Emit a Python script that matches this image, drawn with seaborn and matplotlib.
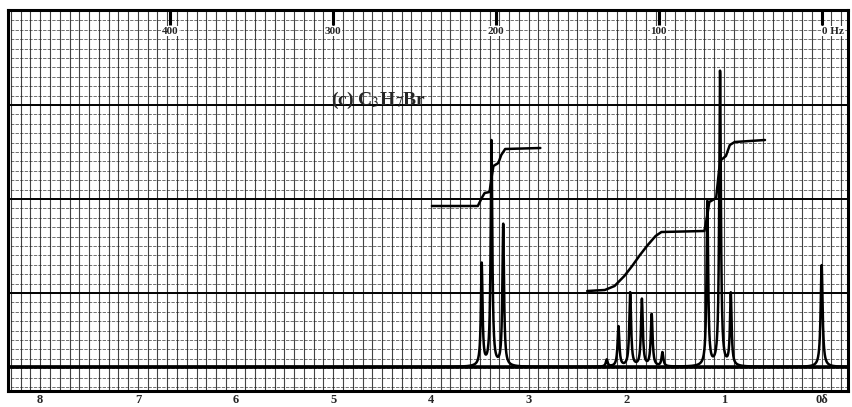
import numpy as np
import pandas as pd
import matplotlib
matplotlib.use("Agg")
import matplotlib.pyplot as plt
import seaborn as sns

sns.set_style("white")
plt.rcParams['font.family'] = ['Liberation Serif', 'DejaVu Serif']
plt.rcParams['mathtext.fontset'] = 'stix'

# Lines of the spectrum: shift (ppm), height above baseline, half width (ppm)
peak_ppm = [3.48, 3.38, 3.26, 2.20, 2.08, 1.96, 1.84, 1.74, 1.63, 1.17, 1.04, 0.93, 0.00]
peak_height = [102, 225, 142, 7, 40, 74, 67, 52, 14, 165, 295, 72, 102]
peak_hwhm = [0.010, 0.010, 0.010, 0.011, 0.011, 0.011, 0.011, 0.011, 0.011, 0.010, 0.010, 0.010, 0.012]

# integral traces, read point by point
integ1_ppm = [3.99, 3.52, 3.48, 3.45, 3.40, 3.38, 3.36, 3.31, 3.28, 3.24, 2.88]
integ1_h = [161, 161, 169, 174, 175, 189, 201, 204, 212, 218, 219]
integ2_ppm = [2.40, 2.22, 2.12, 2.02, 1.94, 1.86, 1.78, 1.70, 1.64, 1.20, 1.17, 1.15,
              1.08, 1.05, 1.03, 0.98, 0.94, 0.89, 0.58]
integ2_h = [76, 77, 81, 91, 101, 112, 122, 131, 135, 136, 152, 165,
            169, 197, 207, 211, 222, 225, 227]

delta_ticks = [8, 7, 6, 5, 4, 3, 2, 1, 0]
delta_labels = ["8", "7", "6", "5", "4", "3", "2", "1", "0δ"]
hz_ticks = [400, 300, 200, 100, 0]
hz_labels = ["400", "300", "200", "100", "0 Hz"]
spectrometer_mhz = 60

title = "(c) C$_3$H$_7$Br"

# build the trace from the line list
x = np.linspace(8.33, -0.27, 6000)
y = np.zeros_like(x)
for p, h, w in zip(peak_ppm, peak_height, peak_hwhm):
    y += h * w**2 / ((x - p)**2 + w**2)
spec = pd.DataFrame({"ppm": x, "signal": y})

fig = plt.figure(figsize=(8.53, 4.07), dpi=100)
ax = fig.add_axes([8 / 853, 16 / 407, 840 / 853, 381 / 407])

# chart paper
ax.vlines(np.arange(-0.2, 8.35, 0.1), -24, 357, color="#222222", lw=0.8, alpha=0.85, zorder=0)
ax.hlines(np.arange(-20, 357, 9.4), -0.27, 8.33, color="#222222", lw=0.6, alpha=0.75,
          linestyles=(0, (4, 1.5)), zorder=0)
ax.hlines([74, 168, 262], -0.27, 8.33, color="black", lw=1.4, zorder=0)

sns.lineplot(data=spec, x="ppm", y="signal", ax=ax, color="black", lw=1.8,
             estimator=None, sort=False, zorder=3)
ax.hlines(0, -0.27, 8.33, color="black", lw=2.6, zorder=2)
sns.lineplot(x=integ1_ppm, y=integ1_h, ax=ax, color="black", lw=1.8,
             estimator=None, sort=False, zorder=3)
sns.lineplot(x=integ2_ppm, y=integ2_h, ax=ax, color="black", lw=1.8,
             estimator=None, sort=False, zorder=3)

# Hz scale along the top
for hz, lab in zip(hz_ticks, hz_labels):
    pos = hz / spectrometer_mhz
    ax.vlines(pos, 342, 357, color="black", lw=2.2, zorder=3)
    ax.text(pos, 336, lab, ha="left" if hz == 0 else "center", va="center",
            fontsize=8, fontweight="bold", zorder=4,
            bbox=dict(facecolor="white", edgecolor="none", pad=0.5))

ax.text(4.54, 267, title, ha="center", va="center", fontsize=14, fontweight="bold", zorder=4)

ax.set_xlim(8.33, -0.27)
ax.set_ylim(-24, 357)
ax.set_xticks(delta_ticks)
ax.set_xticklabels(delta_labels, fontsize=9, fontweight="bold")
ax.tick_params(axis="x", length=0, pad=2)
ax.set_yticks([])
ax.set_xlabel("")
ax.set_ylabel("")
for s in ax.spines.values():
    s.set_linewidth(2.2)
    s.set_color("black")

fig.savefig("out.png", dpi=100)
